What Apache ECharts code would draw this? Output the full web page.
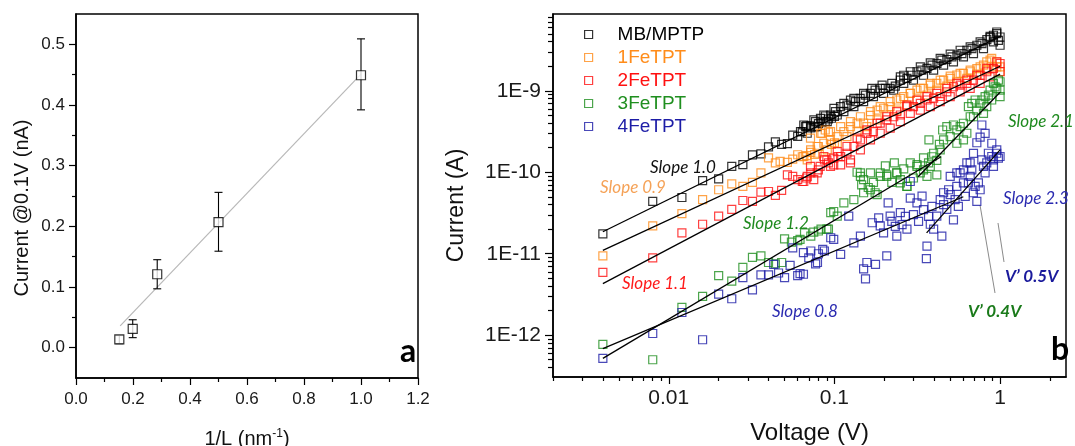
<!DOCTYPE html>
<html><head><meta charset="utf-8">
<script src="https://cdn.jsdelivr.net/npm/echarts@6/dist/echarts.min.js"></script>
<style>html,body{margin:0;padding:0;background:#fff}#c{width:1075px;height:446px}</style>
</head><body><div id="c"></div>
<script>
// ---------- Panel a data ----------
const invLength = [0.152, 0.199, 0.285, 0.5, 1.0];
const currentAt01V = [0.0137, 0.031, 0.121, 0.207, 0.449];
const errLow = [0.0066, 0.0165, 0.097, 0.159, 0.392];
const errHigh = [0.020, 0.046, 0.145, 0.256, 0.509];
const fitA = [[0.155, 0.036], [1.0, 0.451]];
const aXTicks = [0, 0.2, 0.4, 0.6, 0.8, 1.0, 1.2];
const aXMinor = [0.1, 0.3, 0.5, 0.7, 0.9, 1.1];
const aYTicks = [0, 0.1, 0.2, 0.3, 0.4, 0.5];
const aYMinor = [0.05, 0.15, 0.25, 0.35, 0.45];

// ---------- Panel b data ----------
const bXTicks = [0.01, 0.1, 1];
const bYTicks = [1e-12, 1e-11, 1e-10, 1e-9];
const minorMults = [2, 3, 4, 5, 6, 7, 8, 9];
const seriesNames = ['MB/MPTP', '1FeTPT', '2FeTPT', '3FeTPT', '4FeTPT'];

const mbData = [
[0.004,1.75e-11],[0.008,4.4e-11],[0.012,4.9e-11],[0.016,7.9e-11],[0.020,8.3e-11],[0.024,1.18e-10],[0.028,1.24e-10],[0.032,1.63e-10],[0.036,1.68e-10],[0.040,2.05e-10],[0.044,2.36e-10],[0.048,2.2e-10],[0.052,2.25e-10],[0.056,2.85e-10],[0.060,2.75e-10],[0.064,3.15e-10],[0.068,3.7e-10],[0.072,3.5e-10],[0.076,3.6e-10],[0.080,3.95e-10],[0.084,4.05e-10],[0.088,4.2e-10],[0.092,4.5e-10],[0.096,4.6e-10],[0.100,4.85e-10],
[0.0624,3.15e-10],[0.0669,3.63e-10],[0.0717,3.7e-10],[0.0769,4.18e-10],[0.0824,4.59e-10],[0.0883,4.9e-10],[0.0947,5.04e-10],
[0.1015,5.54e-10],[0.1088,6.37e-10],[0.119,6.68e-10],[0.125,7.69e-10],[0.134,7.34e-10],[0.143,8.06e-10],[0.154,8.85e-10],[0.165,9.27e-10],[0.176,1.02e-9],[0.189,1.07e-9],[0.203,1.07e-9],[0.217,1.07e-9],[0.233,1.14e-9],[0.25,1.35e-9],[0.262,1.55e-9],[0.274,1.42e-9],[0.294,1.55e-9],[0.315,1.71e-9],[0.337,1.79e-9],[0.362,1.88e-9],[0.388,2.06e-9],[0.416,2.16e-9],[0.445,2.37e-9],[0.477,2.42e-9],[0.512,2.61e-9],[0.549,2.73e-9],[0.588,2.86e-9],[0.63,3.14e-9],[0.676,3.29e-9],[0.724,3.62e-9],[0.777,3.79e-9],[0.832,4.24e-9],[0.871,4.49e-9],[0.912,4.8e-9],[0.955,5.03e-9],[0.977,4.16e-9],[1.0,4.57e-9],[1.0,3.62e-9],
[0.0685,3.01e-10],[0.0787,3.63e-10],[0.0905,4.18e-10],[0.104,5.04e-10],[0.114,5.54e-10],[0.131,6.37e-10],[0.150,7.34e-10],[0.172,8.45e-10],[0.198,9.27e-10],[0.228,1.02e-9],[0.262,1.23e-9],[0.300,1.35e-9],[0.345,1.55e-9],[0.397,1.79e-9],[0.456,2.06e-9],[0.523,2.26e-9],[0.601,2.61e-9],[0.691,2.86e-9],[0.794,3.29e-9],[0.912,3.97e-9],
[0.0653,3.8e-10],[0.0751,4.38e-10],[0.0863,5.04e-10],[0.0993,6.08e-10],[0.114,7.0e-10],[0.131,8.06e-10],[0.150,9.27e-10],[0.168,1.07e-9],[0.194,1.17e-9],[0.222,1.23e-9],[0.250,1.48e-9],[0.287,1.71e-9],[0.330,1.96e-9],[0.379,2.2e-9],[0.435,2.49e-9],[0.500,2.81e-9],[0.574,3.14e-9],[0.660,3.45e-9],[0.758,3.97e-9],[0.870,4.66e-9],[0.955,5.26e-9]
];

const fe1Data = [
[0.004,9.4e-12],[0.008,2.2e-11],[0.012,3.1e-11],[0.016,4.6e-11],[0.020,6.1e-11],[0.024,7.2e-11],[0.028,6.7e-11],[0.032,7.5e-11],[0.036,9.8e-11],[0.040,1.5e-10],[0.044,1.3e-10],[0.047,1.36e-10],[0.052,1.32e-10],[0.056,1.45e-10],[0.060,1.64e-10],[0.064,1.55e-10],[0.068,1.6e-10],[0.072,1.75e-10],[0.076,1.65e-10],[0.080,2.07e-10],[0.084,3.0e-10],[0.088,3.3e-10],[0.092,3.1e-10],[0.096,2.2e-10],[0.100,2.3e-10],
[0.0653,1.56e-10],[0.0718,1.88e-10],[0.0787,2.07e-10],[0.0863,2.27e-10],[0.0946,2.5e-10],[0.104,2.74e-10],[0.114,3.15e-10],[0.125,3.63e-10],[0.137,4.0e-10],[0.150,4.0e-10],[0.165,5.0e-10],[0.181,5.8e-10],[0.198,6.1e-10],[0.217,6.4e-10],[0.238,7.7e-10],[0.262,8.5e-10],[0.287,9.3e-10],[0.315,1.02e-9],[0.345,1.07e-9],[0.379,1.17e-9],[0.415,1.23e-9],[0.456,1.35e-9],[0.500,1.42e-9],[0.548,1.56e-9],[0.601,1.63e-9],[0.660,1.71e-9],[0.724,1.87e-9],[0.794,2.06e-9],[0.870,2.37e-9],[0.955,2.26e-9],[1.0,1.96e-9],
[0.0717,2.62e-10],[0.0824,3.01e-10],[0.0947,3.15e-10],[0.109,3.63e-10],[0.125,4.18e-10],[0.1435,4.8e-10],[0.165,5.54e-10],[0.189,6.37e-10],[0.217,7.34e-10],[0.25,8.06e-10],[0.287,9.27e-10],[0.33,1.07e-9],[0.379,1.23e-9],[0.435,1.35e-9],[0.5,1.51e-9],[0.574,1.63e-9],[0.66,1.79e-9],[0.758,1.96e-9],[0.831,2.26e-9],[0.89,2.49e-9],
[0.0685,1.42e-10],[0.0787,1.71e-10],[0.0905,1.88e-10],[0.104,2.27e-10],[0.119,2.74e-10],[0.137,3.15e-10],[0.157,3.63e-10],[0.181,4.38e-10],[0.207,5.04e-10],[0.238,5.8e-10],[0.274,6.68e-10],[0.315,7.69e-10],[0.362,8.85e-10],[0.415,1.02e-9],[0.477,1.14e-9],[0.548,1.29e-9],[0.63,1.42e-9],[0.724,1.6e-9],[0.831,1.79e-9],[0.955,1.96e-9],[1.0,1.71e-9]
];

const fe2Data = [
[0.004,5.9e-12],[0.008,8.9e-12],[0.012,1.8e-11],[0.016,2.3e-11],[0.020,2.9e-11],[0.024,3.5e-11],[0.028,4.5e-11],[0.032,4.4e-11],[0.036,5.7e-11],[0.040,5.8e-11],[0.044,5.2e-11],[0.048,6.0e-11],[0.052,9.3e-11],[0.056,8.9e-11],[0.060,8.1e-11],[0.064,7.7e-11],[0.068,8.5e-11],[0.072,9.8e-11],[0.080,1.07e-10],[0.087,1.42e-10],[0.092,1.3e-10],[0.099,1.49e-10],[0.105,1.56e-10],
[0.0685,8.9e-11],[0.075,8.1e-11],[0.082,1.18e-10],[0.090,1.42e-10],[0.099,1.23e-10],[0.109,1.56e-10],[0.119,1.71e-10],[0.125,1.42e-10],[0.131,2.07e-10],[0.1435,2.5e-10],[0.157,3.0e-10],[0.172,3.15e-10],[0.189,4.0e-10],[0.207,4.4e-10],[0.228,4.8e-10],[0.250,5.04e-10],[0.274,6.4e-10],[0.300,6.4e-10],[0.330,7.0e-10],[0.362,7.7e-10],[0.397,8.1e-10],[0.435,8.5e-10],[0.477,9.7e-10],[0.523,1.12e-9],[0.574,1.17e-9],[0.630,1.23e-9],[0.691,1.35e-9],[0.758,1.55e-9],[0.831,1.71e-9],[0.912,1.88e-9],[1.0,2.16e-9],
[0.0717,1.18e-10],[0.0863,1.56e-10],[0.104,1.79e-10],[0.119,2.07e-10],[0.137,2.62e-10],[0.157,3.31e-10],[0.181,3.99e-10],[0.207,4.8e-10],[0.238,5.54e-10],[0.274,6.68e-10],[0.315,7.69e-10],[0.362,8.45e-10],[0.415,9.27e-10],[0.477,1.07e-9],[0.548,1.23e-9],[0.63,1.35e-9],[0.724,1.55e-9],[0.831,1.88e-9],[0.955,2.26e-9],
[0.0653,7.7e-11],[0.0787,9.8e-11],[0.0947,1.18e-10],[0.109,1.23e-10],[0.125,1.3e-10],[0.1435,1.88e-10],[0.165,2.5e-10],[0.189,3.01e-10],[0.217,3.47e-10],[0.25,4.18e-10],[0.287,5.28e-10],[0.33,5.8e-10],[0.379,6.37e-10],[0.435,7.34e-10],[0.5,8.45e-10],[0.574,9.7e-10],[0.66,1.07e-9],[0.758,1.23e-9],[0.87,1.48e-9],[1.0,1.71e-9]
];

const fe3Data = [
[0.004,7.7e-13],[0.008,5.0e-13],[0.012,2.2e-12],[0.016,3.0e-12],[0.020,5.4e-12],[0.024,4.6e-12],[0.028,6.8e-12],[0.032,9.0e-12],[0.036,9.4e-12],[0.040,7.8e-12],[0.044,7.5e-12],[0.048,7.8e-12],[0.050,1.52e-11],[0.055,1.39e-11],[0.060,1.45e-11],[0.062,1.5e-11],[0.066,1.8e-11],[0.072,1.64e-11],[0.075,1.84e-11],[0.080,1.9e-11],[0.083,2.0e-11],[0.090,2.0e-11],[0.092,2.0e-11],[0.095,3.2e-11],[0.099,3.3e-11],[0.104,2.9e-11],
[0.114,4.2e-11],[0.131,4.6e-11],[0.137,1.0e-10],[0.1435,9.8e-11],[0.146,7.0e-11],[0.15,8.1e-11],[0.16,6.5e-11],[0.165,6.1e-11],[0.172,7.5e-11],[0.176,5.6e-11],[0.181,5.3e-11],[0.189,8.9e-11],[0.207,9.3e-11],[0.238,9.8e-11],[0.25,8.1e-11],[0.274,6.7e-11],[0.315,1.24e-10],[0.345,1.07e-10],[0.37,1.3e-10],[0.415,9.3e-11],
[0.1435,8.9e-11],[0.15,5.6e-11],[0.165,9.8e-11],[0.189,9.8e-11],[0.207,8.9e-11],[0.238,9.8e-11],[0.25,7.4e-11],[0.274,6.7e-11],[0.315,1.18e-10],[0.33,9.8e-11],[0.362,8.9e-11],[0.379,1.18e-10],[0.397,1.71e-10],[0.435,1.88e-10],[0.456,2.5e-10],[0.477,3.63e-10],[0.523,3.8e-10],[0.548,3.31e-10],[0.574,3.63e-10],[0.601,2.5e-10],[0.63,3.01e-10],[0.644,6.37e-10],[0.675,7.0e-10],[0.691,4.8e-10],[0.724,5.8e-10],[0.776,7.7e-10],[0.812,8.45e-10],[0.831,6.37e-10],[0.87,1.02e-9],[0.912,1.23e-9],[0.955,1.07e-9],[0.977,1.35e-9],[1.0,1.02e-9],
[0.5,2.74e-10],[0.548,2.27e-10],[0.601,3.99e-10],[0.66,4.8e-10],[0.707,7.7e-10],[0.758,7.0e-10],[0.794,5.28e-10],[0.85,8.85e-10],[0.89,7.7e-10],[0.933,1.12e-9],[1.0,1.29e-9],[1.0,8.45e-10],
[0.203,1.2e-10],[0.222,7.5e-11],[0.23,1.3e-10],[0.262,1.1e-10],[0.287,1.3e-10],[0.3,8.5e-11],[0.345,1.5e-10],[0.388,1.55e-10],[0.415,1.4e-10],[0.43,2.2e-10],[0.372,2.5e-10],[0.45,3.3e-10]
];

const fe4Data = [
[0.004,5.2e-13],[0.008,1.05e-12],[0.012,1.9e-12],[0.016,8.8e-13],[0.020,3.2e-12],[0.024,2.8e-12],[0.028,5.1e-12],[0.032,3.6e-12],[0.036,5.5e-12],[0.040,5.5e-12],[0.043,7.4e-12],[0.046,5.8e-12],[0.050,5.1e-12],[0.054,7.2e-12],[0.056,1.18e-11],[0.060,5.4e-12],[0.062,5.7e-12],[0.065,1.03e-11],[0.070,8.9e-12],[0.077,7.5e-12],[0.080,1.0e-11],[0.085,1.13e-11],[0.095,1.57e-11],
[0.065,5.6e-12],[0.072,1.08e-11],[0.079,7.8e-12],[0.087,1.08e-11],[0.099,1.5e-11],[0.109,9.8e-12],[0.122,2.9e-11],[0.131,1.36e-11],[0.1435,1.64e-11],[0.15,6.5e-12],[0.154,4.9e-12],[0.157,7.8e-12],[0.169,2.4e-11],[0.177,7.4e-12],[0.189,2.2e-11],[0.207,9.4e-12],[0.211,4.2e-11],[0.217,2.9e-11],[0.238,1.64e-11],[0.25,3.2e-11],[0.274,2.0e-11],[0.287,4.8e-11],[0.315,4.2e-11],[0.338,5.1e-11],[0.359,8.7e-12],[0.362,1.24e-11],[0.379,2.3e-11],[0.397,2.0e-11],[0.415,2.9e-11],[0.435,4.6e-11],[0.445,1.64e-11],[0.477,3.5e-11],[0.5,5.3e-11],[0.523,2.6e-11],[0.548,6.7e-11],[0.574,9.8e-11],[0.601,7.4e-11],[0.63,1.3e-10],[0.66,8.9e-11],[0.69,5.6e-11],[0.724,4.4e-11],[0.74,7.4e-11],[0.776,1.42e-10],[0.812,9.8e-11],[0.831,1.3e-10],[0.891,1.56e-10],[0.955,1.71e-10],[1.0,1.56e-10],
[0.776,3.8e-10],[0.812,3.0e-10],[0.758,2.7e-10],[0.724,2.3e-10],[0.891,2.27e-10],[0.955,1.88e-10],[0.912,1.42e-10],[0.691,1.7e-10],[0.66,1.3e-10],[0.601,1.07e-10],[0.548,9.8e-11],[0.5,8.9e-11],[0.456,5.6e-11],[0.287,7.7e-11],
[0.185,2.75e-11],[0.198,1.8e-11],[0.222,2.5e-11],[0.233,2.17e-11],[0.256,2.28e-11],[0.268,2.88e-11],[0.3,3.02e-11],[0.322,2.5e-11],[0.345,3.48e-11],[0.37,2.88e-11],[0.388,3.82e-11],[0.456,4.0e-11],[0.489,6.1e-11],[0.535,4.6e-11],[0.56,3.82e-11],[0.616,5.06e-11],[0.644,7.4e-11],[0.675,1.07e-10],[0.707,6.7e-11],[0.758,6.1e-11],[0.794,1.18e-10],[0.85,1.71e-10],[0.912,1.18e-10],[0.977,1.49e-10]
];

// fitted lines (endpoints)
const fitMB = [[0.004, 1.86e-11], [1.0, 4.65e-9]];
const fitFe1 = [[0.004, 1.1e-11], [1.0, 2.0e-9]];
const fitFe2 = [[0.004, 4.3e-12], [1.0, 1.6e-9]];
const fitFe3a = [[0.004, 5.2e-13], [0.44, 1.55e-10]];
const fitFe3b = [[0.32, 8.8e-11], [1.0, 9.6e-10]];
const fitFe4a = [[0.004, 6.85e-13], [0.6, 5.0e-11]];
const fitFe4b = [[0.36, 1.8e-11], [1.0, 1.88e-10]];

const colors = ['#000000', '#ff8c1a', '#ff1010', '#1f8f1f', '#1c1ca6'];

// ---------- axis ranges ----------
const bXMin = 0.002, bXMax = 2.5, bYMin = 3.07e-13, bYMax = 8.75e-9;
const bXMinor = [], bYMinor = [];
[-3, -2, -1, 0].forEach(e => minorMults.forEach(m => { const v = +(m * Math.pow(10, e)).toPrecision(3); if (v >= bXMin && v <= bXMax) bXMinor.push(v); }));
[-13, -12, -11, -10, -9].forEach(e => minorMults.forEach(m => { const v = +(m * Math.pow(10, e)).toPrecision(3); if (v >= bYMin && v <= bYMax) bYMinor.push(v); }));

const labelFont = 'Liberation Sans';
const axisLine = { show: true, onZero: false, lineStyle: { color: '#000', width: 1.5 } };
const tickStyle = { color: '#000', width: 1.2 };

function mainAxis(o) {
  return Object.assign({
    axisLine: axisLine,
    splitLine: { show: false },
    minorTick: { show: false },
  }, o);
}
function minorAxis(o) {
  return Object.assign({
    axisLine: { show: false, onZero: false },
    axisLabel: { show: false },
    splitLine: { show: false },
  }, o);
}

const chart = echarts.init(document.getElementById('c'), null, { renderer: 'canvas' });

const scatterB = [mbData, fe1Data, fe2Data, fe3Data, fe4Data].map((d, i) => ({
  name: seriesNames[i], type: 'scatter', xAxisIndex: 2, yAxisIndex: 2,
  data: d, symbol: 'rect', symbolSize: 8,
  itemStyle: { color: 'rgba(0,0,0,0)', borderColor: colors[i], borderWidth: 1.2 },
  emphasis: { disabled: true }
}));
const fitB = [fitMB, fitFe1, fitFe2, fitFe3a, fitFe3b, fitFe4a, fitFe4b].map(d => ({
  type: 'line', xAxisIndex: 2, yAxisIndex: 2, data: d, showSymbol: false, symbol: 'none',
  lineStyle: { color: '#000', width: 1.3 }, z: 5
}));

const option = {
  animation: false,
  backgroundColor: '#fff',
  grid: [
    { left: 76, top: 14, width: 342, height: 364, outerBoundsMode: 'none', containLabel: false, show: true, borderColor: '#000', borderWidth: 1.5, backgroundColor: 'transparent' },
    { left: 553, top: 14, width: 513, height: 363, outerBoundsMode: 'none', containLabel: false, show: true, borderColor: '#000', borderWidth: 1.5, backgroundColor: 'transparent' }
  ],
  xAxis: [
    mainAxis({ gridIndex: 0, type: 'value', min: 0, max: 1.2, position: 'bottom',
      name: '{n|1/L (nm}{s|-1}{n|)}', nameLocation: 'middle', nameGap: 50,
      nameTextStyle: { rich: { n: { fontSize: 20, fontFamily: labelFont, color: '#111' }, s: { fontSize: 12, fontFamily: labelFont, color: '#111', verticalAlign: 'top', padding: [0, 0, 10, 0] } } },
      axisTick: { show: true, inside: false, length: 7, lineStyle: tickStyle, customValues: aXTicks },
      axisLabel: { customValues: aXTicks, formatter: v => (+v).toFixed(1), fontSize: 17, fontFamily: labelFont, color: '#1a1a1a', margin: 13 } }),
    minorAxis({ gridIndex: 0, type: 'value', min: 0, max: 1.2, position: 'bottom',
      axisTick: { show: true, length: 4, lineStyle: tickStyle, customValues: aXMinor } }),
    mainAxis({ gridIndex: 1, type: 'log', min: bXMin, max: bXMax, position: 'bottom',
      name: 'Voltage (V)', nameLocation: 'middle', nameGap: 44,
      nameTextStyle: { fontSize: 24, fontFamily: labelFont, color: '#111' },
      axisTick: { show: true, length: 7, lineStyle: tickStyle, customValues: bXTicks },
      axisLabel: { customValues: bXTicks, formatter: v => String(+(+v).toPrecision(3)), fontSize: 21, fontFamily: labelFont, color: '#1a1a1a', margin: 11 } }),
    minorAxis({ gridIndex: 1, type: 'log', min: bXMin, max: bXMax, position: 'bottom',
      axisTick: { show: true, length: 4, lineStyle: tickStyle, customValues: bXMinor } })
  ],
  yAxis: [
    mainAxis({ gridIndex: 0, type: 'value', min: -0.05, max: 0.55, position: 'left',
      name: 'Current @0.1V (nA)', nameLocation: 'middle', nameGap: 44,
      nameTextStyle: { fontSize: 20, fontFamily: labelFont, color: '#111', padding: [0, 24, 0, 0] },
      axisTick: { show: true, length: 7, lineStyle: tickStyle, customValues: aYTicks },
      axisLabel: { customValues: aYTicks, formatter: v => (+v).toFixed(1), fontSize: 17, fontFamily: labelFont, color: '#1a1a1a', margin: 11 } }),
    minorAxis({ gridIndex: 0, type: 'value', min: -0.05, max: 0.55, position: 'left',
      axisTick: { show: true, length: 4, lineStyle: tickStyle, customValues: aYMinor } }),
    mainAxis({ gridIndex: 1, type: 'log', min: bYMin, max: bYMax, position: 'left',
      name: 'Current (A)', nameLocation: 'middle', nameGap: 85,
      nameTextStyle: { fontSize: 23, fontFamily: labelFont, color: '#111', padding: [0, 20, 0, 0] },
      axisTick: { show: true, length: 8, lineStyle: tickStyle, customValues: bYTicks },
      axisLabel: { customValues: bYTicks, formatter: v => '1E' + Math.round(Math.log10(+v)), fontSize: 21, fontFamily: labelFont, color: '#1a1a1a', margin: 12 } }),
    minorAxis({ gridIndex: 1, type: 'log', min: bYMin, max: bYMax, position: 'left',
      axisTick: { show: true, length: 5, lineStyle: tickStyle, customValues: bYMinor } })
  ],
  legend: {
    left: 584, top: 25, padding: 0, orient: 'vertical', itemWidth: 8, itemHeight: 8, itemGap: 4,
    selectedMode: false,
    textStyle: { fontSize: 19, fontFamily: labelFont, lineHeight: 18, padding: [0, 0, 0, 20] },
    data: seriesNames.map((n, i) => ({ name: n, icon: 'rect',
      itemStyle: { color: 'rgba(0,0,0,0)', borderColor: colors[i], borderWidth: 1.2 },
      textStyle: { color: colors[i] } }))
  },
  series: [
    { type: 'line', xAxisIndex: 0, yAxisIndex: 0, data: fitA, showSymbol: false, symbol: 'none',
      lineStyle: { color: '#b8b8b8', width: 1.2 }, z: 1 },
    { type: 'custom', xAxisIndex: 0, yAxisIndex: 0, z: 2,
      data: invLength.map((x, i) => [x, errLow[i], errHigh[i]]),
      encode: { x: 0, y: [1, 2] },
      renderItem: function (params, api) {
        const lo = api.coord([api.value(0), api.value(1)]);
        const hi = api.coord([api.value(0), api.value(2)]);
        const w = 4, st = { stroke: '#000', lineWidth: 1.1 };
        return { type: 'group', children: [
          { type: 'line', shape: { x1: lo[0], y1: lo[1], x2: hi[0], y2: hi[1] }, style: st },
          { type: 'line', shape: { x1: lo[0] - w, y1: lo[1], x2: lo[0] + w, y2: lo[1] }, style: st },
          { type: 'line', shape: { x1: hi[0] - w, y1: hi[1], x2: hi[0] + w, y2: hi[1] }, style: st }
        ] };
      } },
    { type: 'scatter', xAxisIndex: 0, yAxisIndex: 0, z: 3,
      data: invLength.map((x, i) => [x, currentAt01V[i]]),
      symbol: 'rect', symbolSize: 9,
      itemStyle: { color: '#fff', borderColor: '#000', borderWidth: 1.2 } }
  ].concat(scatterB, fitB),
  graphic: [
    { type: 'text', x: 400, y: 352, style: { text: 'a', font: 'bold 32px Lato', fill: '#000', verticalAlign: 'middle' } },
    { type: 'text', x: 1051, y: 350, style: { text: 'b', font: 'bold 32px Lato', fill: '#000', verticalAlign: 'middle' } },
    { type: 'text', x: 650, y: 168, style: { text: 'Slope 1.0', font: 'italic 17px Lato', fill: '#111', verticalAlign: 'middle' } },
    { type: 'text', x: 600, y: 188, style: { text: 'Slope 0.9', font: 'italic 17px Lato', fill: '#f5a257', verticalAlign: 'middle' } },
    { type: 'text', x: 622, y: 284, style: { text: 'Slope 1.1', font: 'italic 17px Lato', fill: '#ff1a1a', verticalAlign: 'middle' } },
    { type: 'text', x: 743, y: 224, style: { text: 'Slope 1.2', font: 'italic 17px Lato', fill: '#1f8a1f', verticalAlign: 'middle' } },
    { type: 'text', x: 772, y: 312, style: { text: 'Slope 0.8', font: 'italic 17px Lato', fill: '#2a2ab0', verticalAlign: 'middle' } },
    { type: 'text', x: 1008, y: 122, style: { text: 'Slope 2.1', font: 'italic 17px Lato', fill: '#1f8a1f', verticalAlign: 'middle' } },
    { type: 'text', x: 1003, y: 199, style: { text: 'Slope 2.3', font: 'italic 17px Lato', fill: '#2a2ab0', verticalAlign: 'middle' } },
    { type: 'text', x: 1005, y: 277, style: { text: 'V\u2019 0.5V', font: 'italic bold 17px Lato', fill: '#1a1a9c', verticalAlign: 'middle' } },
    { type: 'text', x: 968, y: 312, style: { text: 'V\u2019 0.4V', font: 'italic bold 17px Lato', fill: '#1a7a1a', verticalAlign: 'middle' } },
    { type: 'line', shape: { x1: 980, y1: 205, x2: 995, y2: 293 }, style: { stroke: '#8a8a8a', lineWidth: 1 } },
    { type: 'line', shape: { x1: 998, y1: 223, x2: 1004, y2: 262 }, style: { stroke: '#8a8a8a', lineWidth: 1 } }
  ]
};
chart.setOption(option);
</script>
</body></html>
